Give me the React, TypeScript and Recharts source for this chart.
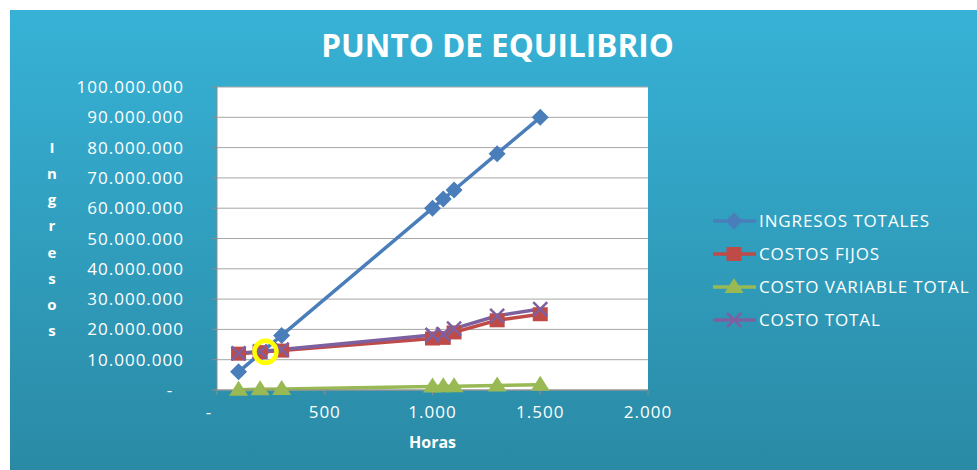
import React from "react"
import {
  LineChart,
  Line,
  XAxis,
  YAxis,
  CartesianGrid,
  ReferenceDot,
} from "recharts"

// Horas vs. ingresos / costos
const hours = [100, 200, 300, 1000, 1050, 1100, 1300, 1500]
const ingresosTotales = [6000000, 12000000, 18000000, 60000000, 63000000, 66000000, 78000000, 90000000]
const costosFijos = [12000000, 12500000, 13000000, 17000000, 17200000, 19000000, 23000000, 25000000]
const costoVariableTotal = [120000, 230000, 350000, 1150000, 1200000, 1270000, 1500000, 1700000]
const costoTotal = [12120000, 12730000, 13350000, 18150000, 18400000, 20270000, 24500000, 26700000]

const xTicks = [0, 500, 1000, 1500, 2000]
const yTicks = [0, 10000000, 20000000, 30000000, 40000000, 50000000, 60000000, 70000000, 80000000, 90000000, 100000000]

// punto de equilibrio (aprox.)
const breakEvenHours = 225
const breakEvenValue = 12600000

const data = hours.map((h, i) => ({
  horas: h,
  ingresos: ingresosTotales[i],
  fijos: costosFijos[i],
  variable: costoVariableTotal[i],
  total: costoTotal[i],
}))

const FONT = "'Open Sans', sans-serif"
const BLUE = "#4a7ebb"
const RED = "#be4b48"
const GREEN = "#98b954"
const PURPLE = "#7d60a0"

const fmt = (n: number) => String(n).replace(/\B(?=(\d{3})+(?!\d))/g, ".")

const Diamond = ({ cx, cy, color }: any) => (
  <path d={`M${cx},${cy - 8.5} L${cx + 8.5},${cy} L${cx},${cy + 8.5} L${cx - 8.5},${cy} Z`} fill={color} />
)
const Square = ({ cx, cy, color }: any) => (
  <rect x={cx - 7.5} y={cy - 7} width={15} height={14} fill={color} />
)
const Triangle = ({ cx, cy, color }: any) => (
  <path d={`M${cx},${cy - 9} L${cx + 9.5},${cy + 6} L${cx - 9.5},${cy + 6} Z`} fill={color} />
)
const Cross = ({ cx, cy, color }: any) => (
  <path d={`M${cx - 7},${cy - 7} L${cx + 7},${cy + 7} M${cx + 7},${cy - 7} L${cx - 7},${cy + 7}`} stroke={color} strokeWidth={2.5} fill="none" />
)

const makeDot = (Shape: any, color: string, prefix: string) => (props: any) => (
  <Shape key={`${prefix}-${props.index}`} cx={props.cx} cy={props.cy} color={color} />
)

const legendItems = [
  { name: "INGRESOS TOTALES", color: BLUE, Shape: Diamond },
  { name: "COSTOS FIJOS", color: RED, Shape: Square },
  { name: "COSTO VARIABLE TOTAL", color: GREEN, Shape: Triangle },
  { name: "COSTO TOTAL", color: PURPLE, Shape: Cross },
]

const tickStyle = { fill: "#fff", fontFamily: FONT, fontSize: 17, letterSpacing: 1 }

const VerticalLabel = ({ viewBox }: any) => {
  const letters = "Ingresos".split("")
  const step = 26.2
  const mid = viewBox.y + viewBox.height / 2
  const start = mid - ((letters.length - 1) / 2) * step
  return (
    <g>
      {letters.map((ch, i) => (
        <text
          key={i}
          x={52}
          y={start + i * step}
          textAnchor="middle"
          dominantBaseline="central"
          fill="#fff"
          fontFamily={FONT}
          fontWeight={700}
          fontSize={15}
        >
          {ch}
        </text>
      ))}
    </g>
  )
}

const HorasLabel = ({ viewBox }: any) => (
  <text
    x={viewBox.x + viewBox.width / 2}
    y={448}
    textAnchor="middle"
    fill="#fff"
    fontFamily={FONT}
    fontWeight={700}
    fontSize={16}
  >
    Horas
  </text>
)

export default function App() {
  return (
    <div style={{ position: "absolute", left: 0, top: 0, width: 977, height: 470, background: "#fff", overflow: "hidden" }}>
      <div
        style={{
          position: "absolute",
          left: 10,
          top: 10,
          right: 0,
          bottom: 0,
          background: "linear-gradient(to bottom, #37b2d6 0%, #2a8aa5 100%)",
        }}
      />
      <div
        style={{
          position: "absolute",
          left: 0,
          top: 25,
          width: 995,
          textAlign: "center",
          color: "#fff",
          fontFamily: FONT,
          fontWeight: 700,
          fontSize: 31.5,
          lineHeight: "40px",
        }}
      >
        PUNTO DE EQUILIBRIO
      </div>

      <div style={{ position: "absolute", left: 0, top: 0 }}>
        <LineChart width={977} height={470} data={data} margin={{ top: 87, right: 329, bottom: 50, left: 0 }}>
          <CartesianGrid vertical={false} stroke="#a6a6a6" fill="#ffffff" fillOpacity={1} />
          <XAxis
            dataKey="horas"
            type="number"
            domain={[0, 2000]}
            ticks={xTicks}
            height={30}
            tickSize={5}
            tickMargin={11}
            stroke="#8c8c8c"
            tick={tickStyle}
            tickFormatter={(v: number) => (v === 0 ? "-\u00a0\u00a0\u00a0" : fmt(v))}
            label={<HorasLabel />}
          />
          <YAxis
            type="number"
            domain={[0, 100000000]}
            ticks={yTicks}
            width={217}
            tickSize={5}
            tickMargin={28}
            stroke="#8c8c8c"
            tick={tickStyle}
            tickFormatter={(v: number) => (v === 0 ? "-\u00a0\u00a0" : fmt(v))}
            label={<VerticalLabel />}
          />
          <Line dataKey="ingresos" stroke={BLUE} strokeWidth={3.5} dot={makeDot(Diamond, BLUE, "d")} isAnimationActive={false} />
          <Line dataKey="fijos" stroke={RED} strokeWidth={3.5} dot={makeDot(Square, RED, "s")} isAnimationActive={false} />
          <Line dataKey="variable" stroke={GREEN} strokeWidth={3.5} dot={makeDot(Triangle, GREEN, "t")} isAnimationActive={false} />
          <Line dataKey="total" stroke={PURPLE} strokeWidth={3.5} dot={makeDot(Cross, PURPLE, "x")} isAnimationActive={false} />
          <ReferenceDot x={breakEvenHours} y={breakEvenValue} r={11} fill="none" stroke="#ffff00" strokeWidth={4.5} />
        </LineChart>
      </div>

      <div style={{ position: "absolute", left: 711, top: 204 }}>
        {legendItems.map((item) => (
          <div key={item.name} style={{ display: "flex", alignItems: "center", height: 33 }}>
            <svg width={46} height={24} style={{ display: "block" }}>
              <line x1={2} y1={12} x2={45} y2={12} stroke={item.color} strokeWidth={3.5} />
              <item.Shape cx={23} cy={12} color={item.color} />
            </svg>
            <span style={{ marginLeft: 2, color: "#fff", fontFamily: FONT, fontSize: 17, letterSpacing: 0.9, whiteSpace: "nowrap" }}>
              {item.name}
            </span>
          </div>
        ))}
      </div>
    </div>
  )
}
